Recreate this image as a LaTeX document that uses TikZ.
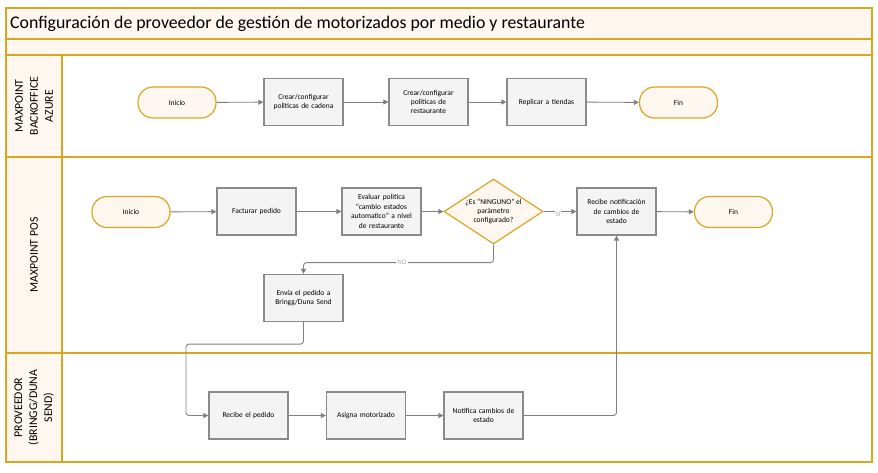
\documentclass[tikz,border=0pt]{standalone}
\usepackage{fontspec}
\setmainfont{Carlito}
\usetikzlibrary{shapes.geometric,arrows.meta}
\definecolor{gold}{HTML}{DAA520}
\definecolor{cream}{HTML}{FEF7EF}
\definecolor{boxgray}{HTML}{F4F4F4}
\definecolor{boxline}{HTML}{8A8A8A}
\definecolor{arrgray}{HTML}{808080}
\definecolor{lblgray}{HTML}{A8AEB8}
\tikzset{
  proc/.style={draw=boxline, fill=boxgray, line width=1.2pt, minimum width=79pt, minimum height=47pt,
    align=center, text width=72pt, inner sep=1pt, font=\fontsize{7.5}{9.4}\selectfont},
  term/.style={draw=gold, fill=cream, line width=1.2pt, minimum width=78pt, minimum height=31pt,
    rounded corners=15pt, align=center, font=\fontsize{7.5}{9}\selectfont},
  dec/.style={draw=gold, fill=cream, line width=1.2pt, diamond, minimum width=99pt, minimum height=65pt, inner sep=0pt},
  dectext/.style={align=center, font=\fontsize{7.5}{9.4}\selectfont, inner sep=0pt},
  arrow/.style={draw=arrgray, line width=0.9pt, -{Triangle[length=5pt,width=5pt]}},
  lbl/.style={text=lblgray, fill=white, inner sep=1pt, font=\fontsize{7}{8}\selectfont},
  lane/.style={draw=gold, line width=1.3pt},
  lanetitle/.style={rotate=90, align=center, font=\fontsize{11.8}{15}\selectfont}
}
\begin{document}
\begin{tikzpicture}[x=1pt,y=-1pt]
\useasboundingbox (0,0) rectangle (878,472);
% frame and bands
\fill[cream] (6,8) rectangle (872,55);
\fill[cream] (6,55) rectangle (62,462);
\draw[lane] (6,8) rectangle (872,462);
\draw[lane] (6,39) -- (872,39);
\draw[lane] (6,55) -- (872,55);
\draw[lane] (6,157) -- (872,157);
\draw[lane] (6,353) -- (872,353);
\draw[lane] (62,55) -- (62,462);
\node[anchor=west, inner sep=0pt, font=\fontsize{17.8}{20}\selectfont] (title) at (10,23.5) {Configuración de proveedor de gestión de motorizados por medio y restaurante};
% lane labels
\node[lanetitle] (l1) at (34,106) {MAXPOINT\\BACKOFFICE\\AZURE};
\node[lanetitle] (l2) at (34,255) {MAXPOINT POS};
\node[lanetitle] (l3) at (34,407.5) {PROVEEDOR\\(BRINGG/DUNA\\SEND)};
% lane 1
\node[term] (i1) at (177,102.5) {Inicio};
\node[proc] (c1) at (303.5,102) {Crear/configurar\\politicas de cadena};
\node[proc] (c2) at (428.5,102) {Crear/configurar\\politicas de\\restaurante};
\node[proc] (rt) at (546.5,102) {Replicar a tiendas};
\node[term] (f1) at (678.5,102.5) {Fin};
\draw[arrow] (i1) -- (c1);
\draw[arrow] (c1) -- (c2);
\draw[arrow] (c2) -- (rt);
\draw[arrow] (rt) -- (f1);
% lane 2
\node[term] (i2) at (131,212) {Inicio};
\node[proc] (fp) at (256.5,211.5) {Facturar pedido};
\node[proc] (ev) at (381.5,211.5) {Evaluar politica\\“cambio estados\\automatico” a nivel\\de restaurante};
\node[dec] (d) at (493.5,211.5) {};
\node[dectext] (dt) at (493.5,211.5) {¿Es “NINGUNO” el\\parámetro\\configurado?};
\node[proc] (rn) at (616.5,211.5) {Recibe notificación\\de cambios de\\estado};
\node[term] (f2) at (733.5,212) {Fin};
\node[proc] (en) at (303.5,298) {Envía el pedido a\\Bringg/Duna Send};
\draw[arrow] (i2) -- (fp);
\draw[arrow] (fp) -- (ev);
\draw[arrow] (ev) -- (d);
\draw[arrow] (d) -- (rn);
\draw[arrow] (rn) -- (f2);
\draw[arrow, rounded corners=3pt] (d.south) -- ++(0,18) -| (en.north);
\node[lbl] (no) at (402,262) {NO};
\node[lbl] (si) at (558,214) {SI};
% lane 3
\node[proc] (rp) at (248.5,415.5) {Recibe el pedido};
\node[proc] (am) at (366,415.5) {Asigna motorizado};
\node[proc] (nc) at (483.5,415.5) {Notifica cambios de\\estado};
\coordinate (k1) at (186,415.5);
\draw[arrow, rounded corners=3pt] (en.south) -- ++(0,22) -| (k1) -- (rp.west);
\draw[arrow] (rp) -- (am);
\draw[arrow] (am) -- (nc);
\draw[arrow, rounded corners=3pt] (nc.east) -| (rn.south);
\end{tikzpicture}
\end{document}
